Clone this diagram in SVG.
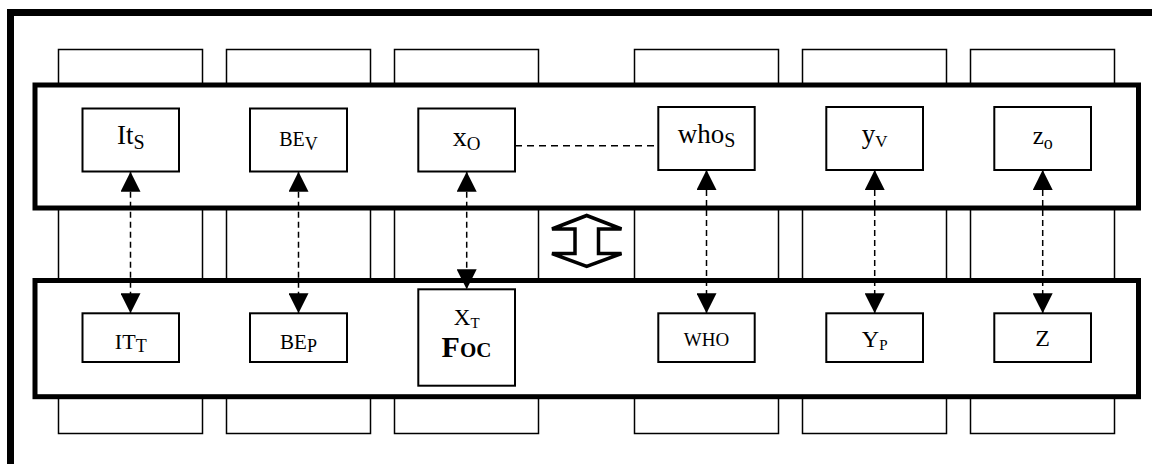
<svg xmlns="http://www.w3.org/2000/svg" width="1152" height="464" viewBox="0 0 1152 464">
<style>
  .col { fill: #fff; stroke: #000; stroke-width: 1.5; }
  .band { fill: #fff; stroke: #000; stroke-width: 5; }
  .node { fill: #fff; stroke: #000; stroke-width: 2; }
  .t { font-family: "Liberation Serif", "Times New Roman", serif; fill: #000; text-anchor: middle; }
  .dash { stroke: #000; stroke-width: 1.5; fill: none; }
  .v { stroke-dasharray: 6 4; }
  .h { stroke-dasharray: 7 5; }
</style>
<defs>
  <marker id="ah" markerUnits="userSpaceOnUse" markerWidth="20" markerHeight="20" refX="20" refY="10" orient="auto-start-reverse" viewBox="0 0 20 20">
    <path d="M0,0 L20,10 L0,20 Z" fill="#000"/>
  </marker>
</defs>
<rect width="1152" height="464" fill="#fff"/>
<path d="M10.5,464 V12.5 H1152" fill="none" stroke="#000" stroke-width="7"/>
<g id="columns">
  <rect class="col" x="58.5" y="49.5" width="144" height="384"/>
  <rect class="col" x="226.5" y="49.5" width="144" height="384"/>
  <rect class="col" x="394.5" y="49.5" width="144" height="384"/>
  <rect class="col" x="634.5" y="49.5" width="144" height="384"/>
  <rect class="col" x="802.5" y="49.5" width="144" height="384"/>
  <rect class="col" x="970.5" y="49.5" width="144" height="384"/>
</g>
<g id="bands">
  <rect id="band-top" class="band" x="35" y="85" width="1103.5" height="123"/>
  <rect id="band-bottom" class="band" x="35" y="280.5" width="1103.5" height="116.2"/>
</g>
<g id="node-its">
  <rect class="node" x="82.5" y="108.5" width="96.5" height="63"/>
  <text class="t" x="130.75" y="144" font-size="27">It<tspan font-size="20" dy="4.7">S</tspan></text>
</g>
<g id="node-bev">
  <rect class="node" x="250" y="108.5" width="97" height="63"/>
  <text class="t" x="298.5" y="145.7" font-size="20">BE<tspan font-size="18" dy="4">V</tspan></text>
</g>
<g id="node-xo">
  <rect class="node" x="418.3" y="108.5" width="96.7" height="63"/>
  <text class="t" x="466.7" y="146" font-size="28">x<tspan font-size="19" dy="4">O</tspan></text>
</g>
<g id="node-whos">
  <rect class="node" x="658.3" y="107" width="96.4" height="63"/>
  <text class="t" x="706.5" y="142.7" font-size="27">who<tspan font-size="20" dy="4">S</tspan></text>
</g>
<g id="node-yv">
  <rect class="node" x="826.3" y="107" width="96.7" height="63"/>
  <text class="t" x="874.7" y="143" font-size="27">y<tspan font-size="17" dy="4">V</tspan></text>
</g>
<g id="node-zo">
  <rect class="node" x="994.3" y="107" width="96.7" height="63"/>
  <text class="t" x="1042.7" y="144.3" font-size="25">z<tspan font-size="18" dy="4.7">o</tspan></text>
</g>
<g id="node-itt">
  <rect class="node" x="82.5" y="313.3" width="96.5" height="48.7"/>
  <text class="t" x="130.75" y="349.3" font-size="22">IT<tspan font-size="18" dy="3">T</tspan></text>
</g>
<g id="node-bep">
  <rect class="node" x="250" y="313.3" width="97" height="48.7"/>
  <text class="t" x="298.5" y="349.3" font-size="21">BE<tspan font-size="18" dy="3">P</tspan></text>
</g>
<g id="node-xt">
  <rect class="node" x="418.3" y="289.3" width="96.7" height="96.4"/>
  <text class="t" x="466.7" y="325" font-size="23">X<tspan font-size="15" dy="3.3">T</tspan></text>
  <text class="t" x="466.5" y="357.3" font-size="30" font-weight="bold" font-variant="small-caps">Foc</text>
</g>
<g id="node-who">
  <rect class="node" x="658.3" y="313.3" width="96.4" height="48.7"/>
  <text class="t" x="706.5" y="345.7" font-size="19">WHO</text>
</g>
<g id="node-yp">
  <rect class="node" x="826.3" y="313.3" width="96.7" height="48.7"/>
  <text class="t" x="874.7" y="346.7" font-size="24">Y<tspan font-size="15" dy="3.3">P</tspan></text>
</g>
<g id="node-z">
  <rect class="node" x="994.3" y="313.3" width="96.7" height="48.7"/>
  <text class="t" x="1042.5" y="346" font-size="24">Z</text>
</g>
<g id="connectors">
  <line class="dash v" x1="130.5" y1="171.7" x2="130.5" y2="313.3" marker-start="url(#ah)" marker-end="url(#ah)"/>
  <line class="dash v" x1="298.5" y1="171.7" x2="298.5" y2="313.3" marker-start="url(#ah)" marker-end="url(#ah)"/>
  <line class="dash v" x1="466.7" y1="171.7" x2="466.7" y2="289.3" marker-start="url(#ah)" marker-end="url(#ah)"/>
  <line class="dash v" x1="706.5" y1="170" x2="706.5" y2="313.3" marker-start="url(#ah)" marker-end="url(#ah)"/>
  <line class="dash v" x1="874.7" y1="170" x2="874.7" y2="313.3" marker-start="url(#ah)" marker-end="url(#ah)"/>
  <line class="dash v" x1="1042.7" y1="170" x2="1042.7" y2="313.3" marker-start="url(#ah)" marker-end="url(#ah)"/>
  <line class="dash h" x1="515" y1="145.7" x2="658.3" y2="145.7"/>
</g>
<g id="updown-arrow">
  <path d="M586.7,215.5 L621.5,229 L598.5,229 L598.5,253.5 L621.5,253.5 L586.7,266.5 L552,253.5 L575,253.5 L575,229 L552,229 Z" fill="#fff" stroke="#000" stroke-width="3.5" stroke-linejoin="miter"/>
</g>
</svg>
